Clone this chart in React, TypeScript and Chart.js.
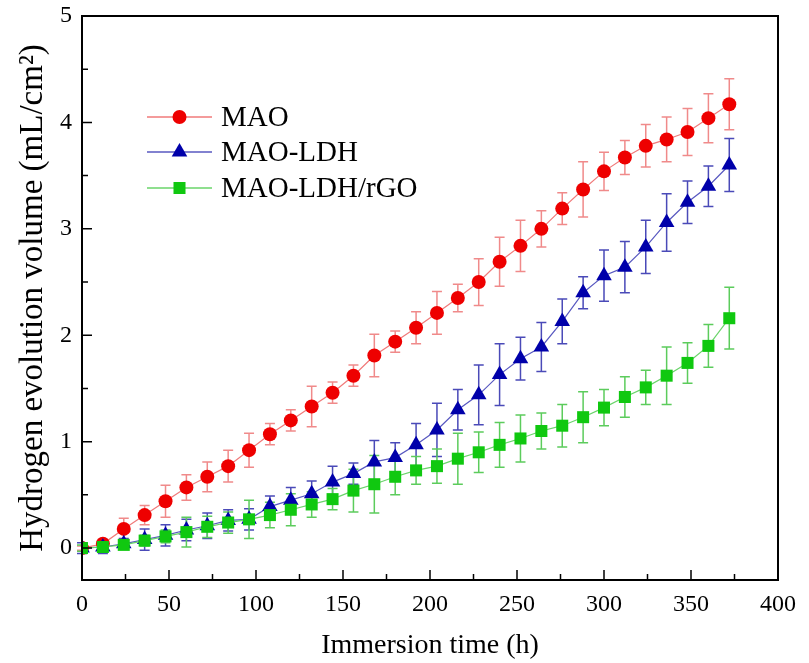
import React, { useEffect, useRef } from 'react';
import { Chart, registerables } from 'chart.js';

Chart.register(...registerables);

const hours = [0, 12, 24, 36, 48, 60, 72, 84, 96, 108, 120, 132, 144, 156, 168, 180, 192, 204, 216, 228, 240, 252, 264, 276, 288, 300, 312, 324, 336, 348, 360, 372];

const mao = [0, 0.04, 0.18, 0.31, 0.44, 0.57, 0.67, 0.77, 0.92, 1.07, 1.2, 1.33, 1.46, 1.62, 1.81, 1.94, 2.07, 2.21, 2.35, 2.5, 2.69, 2.84, 3.0, 3.19, 3.37, 3.54, 3.67, 3.78, 3.84, 3.91, 4.04, 4.17];
const maoErr = [0.02, 0.04, 0.1, 0.09, 0.15, 0.12, 0.14, 0.15, 0.16, 0.1, 0.1, 0.19, 0.1, 0.1, 0.2, 0.1, 0.15, 0.2, 0.13, 0.22, 0.23, 0.24, 0.17, 0.15, 0.26, 0.18, 0.16, 0.2, 0.21, 0.22, 0.23, 0.24];

const ldh = [0, 0.01, 0.04, 0.08, 0.12, 0.17, 0.21, 0.26, 0.27, 0.39, 0.45, 0.51, 0.62, 0.7, 0.81, 0.85, 0.97, 1.11, 1.3, 1.44, 1.63, 1.78, 1.89, 2.13, 2.4, 2.56, 2.64, 2.83, 3.06, 3.25, 3.4, 3.6];
const ldhErr = [0.05, 0.06, 0.05, 0.1, 0.1, 0.1, 0.12, 0.1, 0.1, 0.1, 0.12, 0.12, 0.15, 0.1, 0.2, 0.14, 0.2, 0.25, 0.19, 0.28, 0.29, 0.2, 0.23, 0.21, 0.15, 0.24, 0.24, 0.25, 0.27, 0.2, 0.19, 0.25];

const rgo = [0, 0.01, 0.03, 0.07, 0.11, 0.15, 0.2, 0.24, 0.27, 0.31, 0.36, 0.41, 0.46, 0.54, 0.6, 0.67, 0.73, 0.77, 0.84, 0.9, 0.97, 1.03, 1.1, 1.15, 1.23, 1.32, 1.42, 1.51, 1.62, 1.74, 1.9, 2.16];
const rgoErr = [0.03, 0.04, 0.04, 0.05, 0.06, 0.14, 0.1, 0.1, 0.18, 0.12, 0.15, 0.12, 0.1, 0.2, 0.27, 0.17, 0.13, 0.16, 0.24, 0.19, 0.21, 0.22, 0.17, 0.2, 0.24, 0.17, 0.19, 0.16, 0.27, 0.19, 0.2, 0.29];

const seriesLabels = ['MAO', 'MAO-LDH', 'MAO-LDH/rGO'];
const xMajorTicks = [0, 50, 100, 150, 200, 250, 300, 350, 400];
const xMinorTicks = [25, 75, 125, 175, 225, 275, 325, 375];
const yMajorTicks = [0, 1, 2, 3, 4, 5];
const yMinorTicks = [0.5, 1.5, 2.5, 3.5, 4.5];

const FONT = "'Liberation Serif', 'Times New Roman', Times, serif";

export default function App() {
  const ref = useRef<HTMLCanvasElement>(null);

  useEffect(() => {
    if (!ref.current) return;
    const series = [
      { label: seriesLabels[0], values: mao, errors: maoErr, color: '#ee0000', line: '#f07a7a', err: '#f08a8a', style: 'circle', radius: 7, order: 2 },
      { label: seriesLabels[1], values: ldh, errors: ldhErr, color: '#0000aa', line: '#5858c0', err: '#4a4ab8', style: 'triangle', radius: 9, order: 1 },
      { label: seriesLabels[2], values: rgo, errors: rgoErr, color: '#10c810', line: '#6ad46a', err: '#5ccc5c', style: 'rect', radius: 8.5, order: 0 },
    ];

    const drawMarker = (ctx: CanvasRenderingContext2D, style: string, x: number, y: number, r: number) => {
      ctx.beginPath();
      if (style === 'circle') {
        ctx.arc(x, y, r, 0, Math.PI * 2);
      } else if (style === 'triangle') {
        ctx.moveTo(x, y - r);
        ctx.lineTo(x + r * Math.sin((2 * Math.PI) / 3), y - r * Math.cos((2 * Math.PI) / 3));
        ctx.lineTo(x + r * Math.sin((4 * Math.PI) / 3), y - r * Math.cos((4 * Math.PI) / 3));
        ctx.closePath();
      } else {
        const s = r * Math.SQRT1_2;
        ctx.rect(x - s, y - s, 2 * s, 2 * s);
      }
      ctx.fill();
    };

    const errorBars = {
      id: 'errorBars',
      beforeDatasetsDraw(chart: any) {
        const { ctx, scales } = chart;
        const x = scales.x;
        const y = scales.y;
        ctx.save();
        series.forEach((s) => {
          ctx.strokeStyle = s.err;
          ctx.lineWidth = 1.5;
          s.values.forEach((v, i) => {
            const px = x.getPixelForValue(hours[i]);
            const t = y.getPixelForValue(v + s.errors[i]);
            const b = y.getPixelForValue(v - s.errors[i]);
            ctx.beginPath();
            ctx.moveTo(px, t);
            ctx.lineTo(px, b);
            ctx.moveTo(px - 5, t);
            ctx.lineTo(px + 5, t);
            ctx.moveTo(px - 5, b);
            ctx.lineTo(px + 5, b);
            ctx.stroke();
          });
        });
        ctx.restore();
      },
    };

    const frame = {
      id: 'frame',
      afterDraw(chart: any) {
        const { ctx, chartArea, scales } = chart;
        const { left, right, top, bottom } = chartArea;
        const x = scales.x;
        const y = scales.y;
        ctx.save();
        ctx.strokeStyle = '#000';
        ctx.lineWidth = 1.5;
        ctx.beginPath();
        xMajorTicks.forEach((v) => {
          const px = x.getPixelForValue(v);
          ctx.moveTo(px, bottom);
          ctx.lineTo(px, bottom - 10);
        });
        xMinorTicks.forEach((v) => {
          const px = x.getPixelForValue(v);
          ctx.moveTo(px, bottom);
          ctx.lineTo(px, bottom - 6);
        });
        yMajorTicks.forEach((v) => {
          const py = y.getPixelForValue(v);
          ctx.moveTo(left, py);
          ctx.lineTo(left + 10, py);
        });
        yMinorTicks.forEach((v) => {
          const py = y.getPixelForValue(v);
          ctx.moveTo(left, py);
          ctx.lineTo(left + 6, py);
        });
        ctx.stroke();
        ctx.lineWidth = 2;
        ctx.strokeRect(left, top, right - left, bottom - top);

        // legend
        const lx0 = left + 65;
        const lx1 = left + 130;
        const lxm = (lx0 + lx1) / 2;
        const ys = [top + 101, top + 136, top + 172];
        ctx.font = `29px ${FONT}`;
        ctx.textBaseline = 'middle';
        ctx.textAlign = 'left';
        series.forEach((s, i) => {
          ctx.strokeStyle = s.line;
          ctx.lineWidth = 1.5;
          ctx.beginPath();
          ctx.moveTo(lx0, ys[i]);
          ctx.lineTo(lx1, ys[i]);
          ctx.stroke();
          ctx.fillStyle = s.color;
          drawMarker(ctx, s.style, lxm, ys[i], s.radius);
          ctx.fillStyle = '#000';
          ctx.fillText(s.label, lx1 + 9, ys[i] + 1);
        });
        ctx.restore();
      },
    };

    const chart = new Chart(ref.current, {
      type: 'line',
      data: {
        datasets: series.map((s) => ({
          label: s.label,
          data: s.values.map((v, i) => ({ x: hours[i], y: v })),
          borderColor: s.line,
          borderWidth: 1.2,
          backgroundColor: s.color,
          pointBackgroundColor: s.color,
          pointBorderColor: s.color,
          pointBorderWidth: 0,
          pointStyle: s.style as any,
          pointRadius: s.radius,
          pointHoverRadius: s.radius,
          tension: 0,
          fill: false,
          order: s.order,
        })),
      },
      options: {
        animation: false,
        responsive: true,
        maintainAspectRatio: false,
        layout: { padding: { top: 16, right: 31, left: 0, bottom: 0 } },
        plugins: {
          legend: { display: false },
          tooltip: { enabled: false },
        },
        scales: {
          x: {
            type: 'linear',
            min: 0,
            max: 400,
            grid: { display: false, drawTicks: false },
            border: { display: false },
            ticks: {
              stepSize: 50,
              padding: 10,
              color: '#000',
              font: { family: FONT, size: 24 },
              maxRotation: 0,
            },
            title: {
              display: true,
              text: 'Immersion time (h)',
              color: '#000',
              font: { family: FONT, size: 28 },
              padding: { top: 0, bottom: 1 },
            },
            afterFit(scale: any) {
              scale.height = 83;
              scale.paddingLeft = 0;
              scale.paddingRight = 0;
            },
          },
          y: {
            type: 'linear',
            min: -0.3,
            max: 5,
            grid: { display: false, drawTicks: false },
            border: { display: false },
            afterBuildTicks(scale: any) {
              scale.ticks = yMajorTicks.map((v) => ({ value: v }));
            },
            ticks: {
              padding: 10,
              color: '#000',
              font: { family: FONT, size: 24 },
              callback: (v: any) => String(v),
            },
            title: {
              display: true,
              text: 'Hydrogen evolution volume (mL/cm²)',
              color: '#000',
              font: { family: FONT, size: 33 },
              padding: { top: 14, bottom: 0 },
            },
            afterFit(scale: any) {
              scale.width = 82;
              scale.paddingTop = 0;
              scale.paddingBottom = 0;
            },
          },
        },
      },
      plugins: [errorBars, frame],
    });

    return () => chart.destroy();
  }, []);

  return (
    <div style={{ position: 'absolute', left: 0, top: 0, width: 809, height: 663, background: '#fff' }}>
      <canvas ref={ref} />
    </div>
  );
}
